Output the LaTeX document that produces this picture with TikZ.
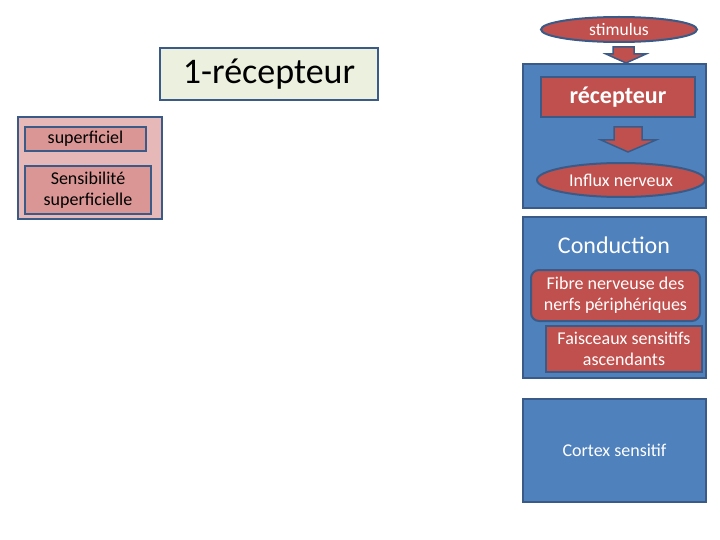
\documentclass[tikz,border=0pt]{standalone}
\usepackage{fontspec}
\setmainfont{Carlito}
\usetikzlibrary{shapes.geometric,shapes.arrows}
\definecolor{bfill}{HTML}{4F81BD}
\definecolor{bdark}{HTML}{3A5B87}
\definecolor{rfill}{HTML}{C0504D}
\definecolor{pinkL}{HTML}{E6B9B8}
\definecolor{pinkM}{HTML}{D99694}
\definecolor{pale}{HTML}{EBF1DE}
\tikzset{
  bluebox/.style={draw=bdark,fill=bfill,line width=2pt},
  redbox/.style={draw=bdark,fill=rfill,line width=2pt,text=white,align=center},
  redell/.style={ellipse,draw=bdark,fill=rfill,line width=2pt,text=white,inner sep=0pt},
  pinkbox/.style={draw=bdark,fill=pinkM,line width=2pt,align=center,inner sep=0pt},
  downarr/.style={draw=bdark,fill=rfill,line width=1.5pt},
  wtext/.style={text=white,align=center}
}
\begin{document}
\begin{tikzpicture}[x=1pt,y=-1pt]
\useasboundingbox (0,0) rectangle (720,540);
% right column
\node[redell,minimum width=156pt,minimum height=25pt,font=\fontsize{17.5}{20}\selectfont] (stim) at (619,29.5) {stimulus};
\draw[bluebox] (523,64) rectangle (706,208);
\node[redbox,minimum width=154pt,minimum height=40pt,inner sep=0pt,font=\fontsize{24}{28}\selectfont\bfseries] (rec) at (618,97) {récepteur};
\node[redell,minimum width=168pt,minimum height=34pt,font=\fontsize{18}{21}\selectfont] (influx) at (621,180) {Influx nerveux};
\draw[bluebox] (523,217) rectangle (706,378);
\node[wtext,font=\fontsize{24}{28}\selectfont] (cond) at (614,245) {Conduction};
\node[redbox,rounded corners=8pt,minimum width=169pt,minimum height=51pt,inner sep=0pt,font=\fontsize{18}{21}\selectfont] (fibre) at (615.5,295.5) {Fibre nerveuse des\\nerfs périphériques};
\node[redbox,minimum width=156pt,minimum height=46pt,inner sep=0pt,font=\fontsize{18}{21}\selectfont] (fais) at (624,349) {Faisceaux sensitifs\\ascendants};
\node[bluebox,minimum width=183pt,minimum height=103pt,wtext,font=\fontsize{18}{21}\selectfont] (cortex) at (614.5,450.5) {Cortex sensitif};
% arrows
\draw[downarr] (613,47) -- (634,47) -- (634,54) -- (646,54) -- (626,63) -- (606,54) -- (613,54) -- cycle;
\draw[downarr] (614,127) -- (642,127) -- (642,140) -- (656,140) -- (628,152) -- (601,140) -- (614,140) -- cycle;
% left part
\node[draw=bdark,fill=pale,line width=2.5pt,minimum width=218pt,minimum height=52pt,inner sep=0pt,font=\fontsize{36}{40}\selectfont] (r1) at (269,74) {1-récepteur};
\draw[draw=bdark,fill=pinkL,line width=2pt] (18,117) rectangle (162,219);
\node[pinkbox,minimum width=121pt,minimum height=24pt,font=\fontsize{18}{21}\selectfont] (sup) at (85.5,139) {superficiel};
\node[pinkbox,minimum width=126pt,minimum height=48pt,font=\fontsize{18}{21}\selectfont] (sens) at (88,190) {Sensibilité\\superficielle};
\end{tikzpicture}
\end{document}
